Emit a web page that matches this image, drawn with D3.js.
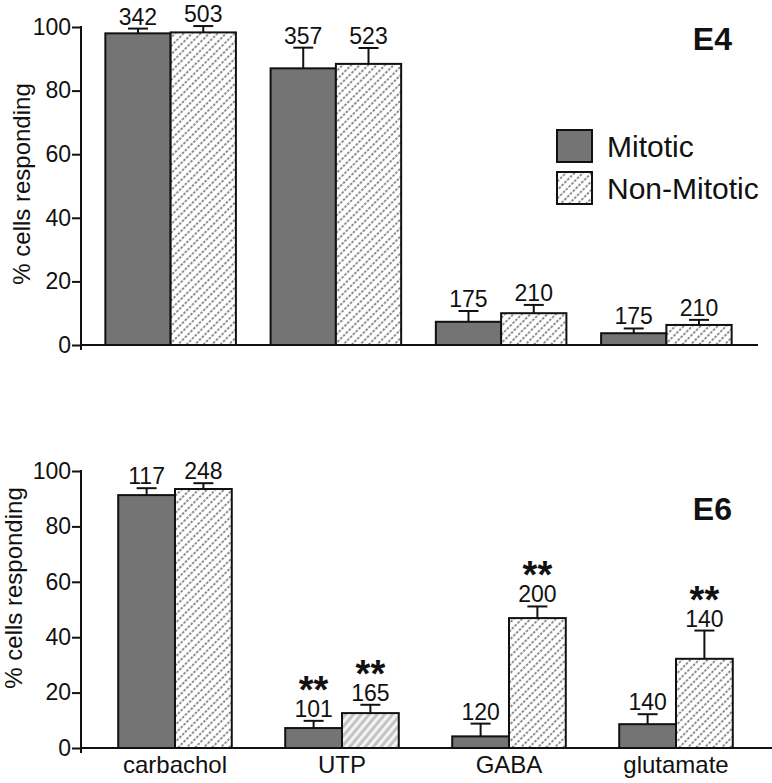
<!DOCTYPE html>
<html>
<head>
<meta charset="utf-8">
<script src="https://cdn.jsdelivr.net/npm/d3@7"></script>
<style>
  html, body { margin: 0; padding: 0; background: #fff; }
  text { font-family: Arial, "Liberation Sans", Helvetica, sans-serif; fill: #111; }
</style>
</head>
<body>
<script>
// ---------------- data ----------------
const categories = ["carbachol", "UTP", "GABA", "glutamate"];
const seriesNames = ["Mitotic", "Non-Mitotic"];
const yTicks = [0, 20, 40, 60, 80, 100];

// E4
const e4Mitotic = [98.0, 87.0, 7.3, 3.7];
const e4MitoticErr = [1.5, 6.5, 3.4, 1.5];
const e4MitoticN = [342, 357, 175, 175];
const e4NonMitotic = [98.3, 88.4, 10.0, 6.3];
const e4NonMitoticErr = [2.0, 5.0, 2.6, 1.6];
const e4NonMitoticN = [503, 523, 210, 210];

// E6
const e6Mitotic = [91.3, 7.2, 4.2, 8.6];
const e6MitoticErr = [2.5, 2.6, 4.6, 3.6];
const e6MitoticN = [117, 101, 120, 140];
const e6MitoticSig = [false, true, false, false];
const e6NonMitotic = [93.5, 12.6, 46.9, 32.2];
const e6NonMitoticErr = [2.1, 3.0, 4.2, 10.2];
const e6NonMitoticN = [248, 165, 200, 140];
const e6NonMitoticSig = [false, true, true, true];

// ---------------- drawing ----------------
const W = 772, H = 783;
const svg = d3.select("body").append("svg").attr("width", W).attr("height", H);

const defs = svg.append("defs");
// dotted diagonal hatch
const hp = defs.append("pattern").attr("id", "hatch")
  .attr("patternUnits", "userSpaceOnUse").attr("width", 6).attr("height", 8)
  .attr("patternTransform", "rotate(45)");
hp.append("rect").attr("width", 6).attr("height", 8).attr("fill", "#fff");
hp.append("line").attr("x1", 1).attr("y1", 0).attr("x2", 1).attr("y2", 8)
  .attr("stroke", "#858585").attr("stroke-width", 1.9).attr("stroke-dasharray", "2.5,1.5");
// light solid hatch
const lp = defs.append("pattern").attr("id", "hatchLight")
  .attr("patternUnits", "userSpaceOnUse").attr("width", 6).attr("height", 8)
  .attr("patternTransform", "rotate(40)");
lp.append("rect").attr("width", 6).attr("height", 8).attr("fill", "#f4f4f4");
lp.append("line").attr("x1", 1.5).attr("y1", 0).attr("x2", 1.5).attr("y2", 8)
  .attr("stroke", "#c4c4c4").attr("stroke-width", 3);

const mitoticFill = "#747474";

function makeRows(m, me, mn, nm, nme, nmn, msig, nmsig) {
  return categories.map((c, i) => ({
    cat: c,
    vals: [
      { s: seriesNames[0], v: m[i], e: me[i], n: mn[i], sig: msig ? msig[i] : false },
      { s: seriesNames[1], v: nm[i], e: nme[i], n: nmn[i], sig: nmsig ? nmsig[i] : false }
    ]
  }));
}

const panels = [
  {
    tag: "E4", rows: makeRows(e4Mitotic, e4MitoticErr, e4MitoticN, e4NonMitotic, e4NonMitoticErr, e4NonMitoticN),
    yr: [345, 27], xr: [88, 749], pad: 0.21, axisEnd: 758,
    labelX: 30, labelCy: 184, tagY: 50, showCats: false
  },
  {
    tag: "E6", rows: makeRows(e6Mitotic, e6MitoticErr, e6MitoticN, e6NonMitotic, e6NonMitoticErr, e6NonMitoticN, e6MitoticSig, e6NonMitoticSig),
    yr: [748, 471], xr: [91.5, 759.5], pad: 0.32, axisEnd: 772,
    labelX: 22, labelCy: 588, tagY: 520, showCats: true
  }
];

const axisLeftX = 81;

panels.forEach(p => {
  const g = svg.append("g");
  const y = d3.scaleLinear().domain([0, 100]).range(p.yr);
  const x = d3.scaleBand().domain(categories).range(p.xr)
    .paddingInner(p.pad).paddingOuter(p.pad / 2);
  const xs = d3.scaleBand().domain(seriesNames).range([0, x.bandwidth()]);

  // y axis
  const ya = g.append("g").attr("transform", `translate(${axisLeftX},0)`)
    .call(d3.axisLeft(y).tickValues(yTicks).tickSize(9).tickPadding(1).tickSizeOuter(0));
  ya.select(".domain").remove();
  ya.selectAll(".tick line").attr("stroke", "#111").attr("stroke-width", 2);
  ya.selectAll(".tick text").style("font-size", "23px").attr("fill", "#111")
    .style("font-family", "Arial, 'Liberation Sans', sans-serif");
  g.append("line").attr("x1", axisLeftX).attr("x2", axisLeftX)
    .attr("y1", y(100) - 1).attr("y2", y(0) + 5)
    .attr("stroke", "#111").attr("stroke-width", 2);

  // y label
  g.append("text")
    .attr("transform", `translate(${p.labelX},${p.labelCy}) rotate(-90)`)
    .attr("text-anchor", "middle").style("font-size", "24px")
    .text("% cells responding");

  // bars
  const grp = g.selectAll(".grp").data(p.rows).enter().append("g")
    .attr("transform", d => `translate(${x(d.cat)},0)`);

  grp.selectAll("rect").data(d => d.vals.map(v => Object.assign({ cat: d.cat }, v))).enter()
    .append("rect")
    .attr("x", d => xs(d.s))
    .attr("y", d => y(d.v))
    .attr("width", xs.bandwidth())
    .attr("height", d => y(0) - y(d.v))
    .attr("fill", d => d.s === "Mitotic" ? mitoticFill
      : (p.tag === "E6" && d.cat === "UTP" ? "url(#hatchLight)" : "url(#hatch)"))
    .attr("stroke", "#111").attr("stroke-width", 2);

  // error bars
  const eb = grp.selectAll(".eb").data(d => d.vals).enter().append("g");
  eb.append("line")
    .attr("x1", d => xs(d.s) + xs.bandwidth() / 2).attr("x2", d => xs(d.s) + xs.bandwidth() / 2)
    .attr("y1", d => y(d.v)).attr("y2", d => y(d.v + d.e))
    .attr("stroke", "#111").attr("stroke-width", 2);
  eb.append("line")
    .attr("x1", d => xs(d.s) + xs.bandwidth() / 2 - 10).attr("x2", d => xs(d.s) + xs.bandwidth() / 2 + 10)
    .attr("y1", d => y(d.v + d.e)).attr("y2", d => y(d.v + d.e))
    .attr("stroke", "#111").attr("stroke-width", 2);

  // n labels
  eb.append("text")
    .attr("x", d => xs(d.s) + xs.bandwidth() / 2)
    .attr("y", d => y(d.v + d.e) - 4)
    .attr("text-anchor", "middle").style("font-size", "23px")
    .text(d => d.n);

  // significance
  eb.filter(d => d.sig).append("text")
    .attr("x", d => xs(d.s) + xs.bandwidth() / 2)
    .attr("y", d => y(d.v + d.e) - 18)
    .attr("text-anchor", "middle").style("font-size", "38px").style("font-weight", "bold")
    .text("**");

  // x axis line
  g.append("line").attr("x1", axisLeftX).attr("x2", p.axisEnd)
    .attr("y1", y(0)).attr("y2", y(0))
    .attr("stroke", "#111").attr("stroke-width", 2);

  // category labels
  if (p.showCats) {
    g.selectAll(".cat").data(categories).enter().append("text")
      .attr("x", d => x(d) + x.bandwidth() / 2)
      .attr("y", y(0) + 25)
      .attr("text-anchor", "middle").style("font-size", "24px")
      .text(d => d);
  }

  // panel tag
  g.append("text").attr("x", 732).attr("y", p.tagY)
    .attr("text-anchor", "end").style("font-size", "32px").style("font-weight", "bold")
    .text(p.tag);
});

// legend
const lg = svg.append("g").attr("transform", "translate(557,130)");
const li = lg.selectAll("g").data(seriesNames).enter().append("g")
  .attr("transform", (d, i) => `translate(0,${i * 42})`);
li.append("rect").attr("width", 35).attr("height", 32)
  .attr("fill", d => d === "Mitotic" ? mitoticFill : "url(#hatch)")
  .attr("stroke", "#111").attr("stroke-width", 2);
li.append("text").attr("x", 50).attr("y", 27).style("font-size", "30px").text(d => d);
</script>
</body>
</html>
